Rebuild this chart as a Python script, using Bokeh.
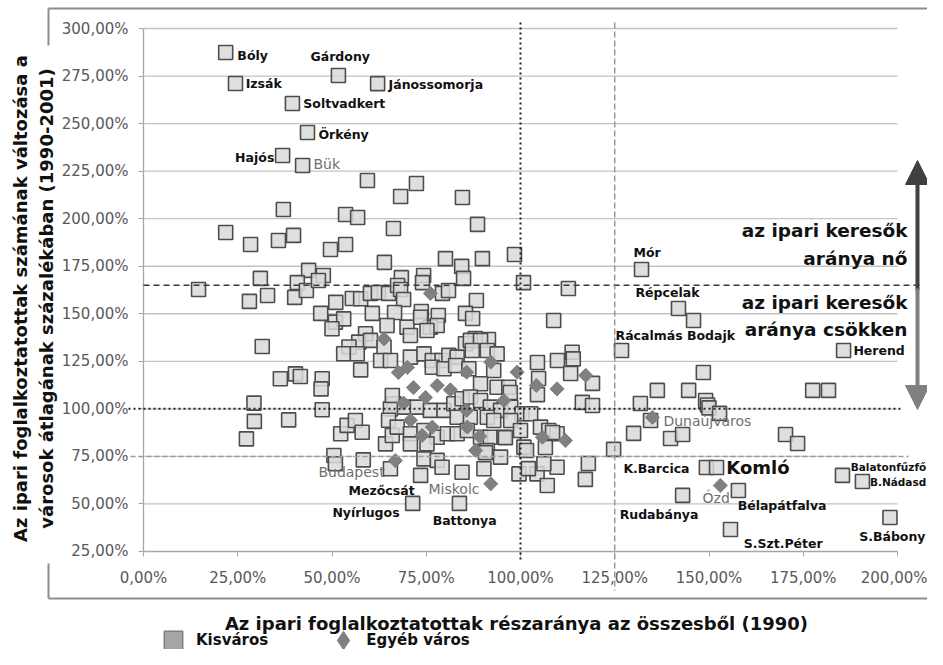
import math
from bokeh.plotting import figure
from bokeh.models import (Range1d, FixedTicker, ColumnDataSource, LabelSet, Label,
                          Arrow, NormalHead, Legend, LegendItem)
from bokeh.core.properties import value
from bokeh.embed import file_html
from bokeh.resources import INLINE

# ---------------- data ----------------
kis_x = [21.8, 24.4, 51.7, 62.1, 39.5, 43.5, 36.9, 42.2,
         59.4, 68.2, 72.4, 84.6, 37.1, 53.6, 56.8, 88.6, 66.3, 21.8, 39.8, 35.8, 28.4, 53.6, 49.6, 98.4,
         89.9, 80.1, 63.9, 84.4, 31.0, 43.8, 47.7, 68.4, 74.3, 84.9, 132.1,
         14.6, 28.1, 32.9, 40.8, 40.1, 43.2, 46.4, 51.0, 55.4, 57.6, 60.2, 62.3, 65.0, 67.4, 68.2, 69.0,
         74.0, 79.3, 80.9, 88.3, 100.8, 112.7,
         47.0, 50.9, 53.1, 50.0, 60.7, 66.6, 73.7, 78.2, 85.4, 87.3, 108.8, 64.6, 76.1, 77.9, 58.9, 57.1,
         60.2, 91.5, 88.0, 54.5, 53.1, 56.7, 63.8, 62.9, 65.5, 57.6, 31.5, 141.9, 145.9, 126.8, 185.7,
         69.9, 73.5, 70.8, 75.2, 85.4, 86.7, 89.4, 87.2, 91.2, 93.8, 70.8, 74.4, 76.6, 79.2, 81.0, 83.2,
         76.6, 79.7, 82.8, 86.3, 92.9, 93.8, 89.4, 96.9,
         66.4, 69.1, 72.6, 76.1, 79.7, 82.3, 84.5, 86.7, 89.4, 92.0, 94.7, 97.4, 100.4, 102.7, 83.2, 86.7,
         91.2, 92.9, 97.4,
         104.5, 109.8, 113.7, 114.0, 113.3, 104.8, 119.1, 116.4, 119.1, 104.5, 97.3, 131.8, 136.3, 144.6,
         148.5, 149.1, 149.6, 150.0, 152.8, 177.5, 181.7, 134.5, 130.0, 139.8, 143.0, 170.3, 173.5, 124.7,
         29.3, 29.4, 27.3, 38.5, 47.4, 52.3, 54.0, 56.2, 58.0, 50.5, 50.9, 58.3, 65.5, 64.2, 66.0, 65.5,
         66.0, 36.3, 40.3, 41.6, 47.4, 47.1, 65.0,
         67.3, 70.8, 74.4, 77.9, 80.6, 83.2, 85.9, 89.4, 92.0, 95.6, 100.0, 100.9, 105.3, 107.5, 109.7,
         70.8, 75.2, 74.4, 77.9, 73.5, 79.2, 84.5, 90.3, 91.2, 94.7, 99.6, 104.4, 107.1, 109.7, 106.2,
         101.6, 106.6, 90.7, 96.0, 108.5, 118.0, 117.2, 102.1,
         71.4, 83.8, 143.0, 157.8, 155.7, 198.0, 185.4, 190.7, 149.3, 152.0]
kis_y = [287.4, 271.1, 275.3, 271.0, 260.6, 245.3, 233.2, 228.0,
         220.1, 211.7, 218.5, 211.1, 204.8, 202.2, 200.6, 197.0, 194.8, 192.7, 191.2, 188.5, 186.4, 186.4, 183.8, 181.2,
         179.0, 179.0, 177.0, 174.9, 168.6, 172.8, 170.1, 169.0, 170.1, 168.6, 173.3,
         162.8, 156.5, 159.6, 166.4, 158.6, 162.2, 167.5, 156.0, 158.0, 157.9, 160.7, 161.2, 160.7, 164.9, 162.8, 157.5,
         166.4, 160.7, 162.2, 157.0, 166.4, 163.3,
         150.2, 145.6, 147.3, 142.1, 150.2, 150.7, 151.2, 149.1, 150.2, 147.5, 146.5, 143.8, 143.0, 143.8, 139.5, 135.1,
         136.0, 136.5, 137.0, 132.5, 129.0, 129.0, 132.5, 125.4, 125.4, 120.5, 132.8, 152.8, 146.5, 130.7, 130.7,
         143.0, 148.2, 138.6, 141.2, 134.2, 136.0, 136.0, 130.7, 130.7, 128.9, 127.2, 128.9, 125.4, 125.4, 128.1, 127.2,
         121.9, 121.1, 122.8, 121.1, 120.2, 111.4, 113.2, 111.4,
         102.7, 100.9, 100.9, 99.2, 99.2, 102.7, 105.3, 106.2, 104.4, 100.9, 99.2, 100.9, 97.4, 97.4, 95.6, 95.6,
         95.6, 93.9, 93.9,
         124.4, 125.4, 129.8, 126.3, 118.6, 116.0, 113.4, 103.4, 101.8, 107.5, 108.6, 102.8, 109.7, 109.7,
         119.1, 104.4, 102.0, 100.5, 97.6, 109.7, 109.7, 93.9, 87.1, 84.4, 86.5, 86.5, 81.8, 78.7,
         103.0, 93.4, 84.2, 94.2, 99.5, 86.9, 91.3, 93.9, 87.7, 75.5, 71.1, 73.2, 68.5, 81.6, 86.0, 100.0,
         107.0, 115.8, 118.4, 117.0, 115.8, 110.5, 94.0,
         90.4, 86.9, 88.6, 85.1, 86.9, 86.9, 88.6, 85.1, 85.1, 85.1, 88.6, 79.9, 90.4, 88.6, 86.9,
         81.6, 81.6, 73.7, 72.9, 65.0, 69.3, 66.7, 68.5, 78.1, 74.6, 65.8, 65.8, 59.7, 69.3, 71.1,
         78.1, 79.7, 77.0, 84.9, 87.6, 71.3, 62.9, 68.6,
         50.3, 50.3, 54.5, 57.1, 36.6, 42.9, 65.0, 61.8, 69.2, 69.2]

egyeb_x = [76.1, 63.8, 70.0, 67.6, 71.6, 69.0, 74.8, 70.8, 76.6, 73.9, 85.9, 89.2, 88.1, 95.6, 85.7,
           92.1, 85.7, 81.4, 77.9, 99.1, 104.2, 109.7, 105.8, 111.9, 92.1, 66.8, 117.3, 135.0, 153.0]
egyeb_y = [160.7, 136.8, 121.8, 119.1, 111.2, 103.0, 106.0, 94.0, 90.4, 86.0, 90.4, 85.5, 78.1, 104.4, 99.2,
           124.6, 119.3, 110.0, 112.3, 119.3, 112.3, 110.5, 85.1, 83.4, 60.6, 72.8, 117.6, 95.5, 59.7]

x_ticks = [0, 25, 50, 75, 100, 125, 150, 175, 200]
y_ticks = [25, 50, 75, 100, 125, 150, 175, 200, 225, 250, 275, 300]

# label texts and their anchor points (data units)
lab_black = ["Bóly", "Izsák", "Gárdony", "Jánossomorja", "Soltvadkert", "Örkény", "Mór", "Répcelak",
             "Rácalmás Bodajk", "Herend", "K.Barcica", "Bélapátfalva",
             "Rudabánya", "S.Szt.Péter", "Mezőcsát", "Nyírlugos", "Battonya"]
lab_black_x = [24.9, 27.1, 44.3, 65.0, 42.4, 46.4, 130.0, 130.5, 125.2, 188.3, 127.3,
               157.6, 126.3, 159.2, 54.4, 50.1, 76.7]
lab_black_y = [285.8, 271.1, 285.3, 270.6, 260.6, 244.3, 182.2, 161.2, 138.6, 130.7, 68.7,
               49.2, 44.5, 29.2, 57.1, 45.5, 41.3]
lab_edge = ["Balatonfűzfő", "B.Nádasd"]
lab_edge_x = [187.6, 192.7]
lab_edge_y = [69.2, 61.3]
lab_gray = ["Bük", "Dunaújváros", "Budapest", "Miskolc", "Ózd"]
lab_gray_x = [45.1, 137.9, 46.4, 75.6, 148.3]
lab_gray_y = [228.5, 93.4, 66.6, 58.1, 52.9]

def fmt(v):
    return ("%.2f" % v).replace(".", ",") + "%"

# helpers: picture pixel -> data units (for annotation placement only)
def ypx(py):
    return 300 - (py - 28) / 1.9018

def xpx(px):
    return (px - 143) / 3.77

W, H = 927, 649
# the frame fills the whole canvas; axes are drawn at fixed locations inside it
p = figure(width=W, height=H, output_backend="svg", toolbar_location=None,
           x_range=Range1d(xpx(0), xpx(W)), y_range=Range1d(ypx(H), ypx(0)),
           min_border=0)
p.outline_line_color = None
p.background_fill_color = "white"
p.border_fill_color = "white"
p.grid.visible = False

for ax, ticks, loc, bnd in ((p.xaxis, x_ticks, 25, (0, 200)), (p.yaxis, y_ticks, 0, (25, 300))):
    ax.fixed_location = loc
    ax.bounds = bnd
    ax.ticker = FixedTicker(ticks=ticks)
    ax.major_label_overrides = {t: fmt(t) for t in ticks}
    ax.axis_line_color = "#a6a6a6"
    ax.axis_line_width = 1.3
    ax.major_tick_line_color = "#a6a6a6"
    ax.major_tick_in = 0
    ax.major_tick_out = 5
    ax.minor_tick_line_color = None
    ax.major_label_text_font = "DejaVu Sans"
    ax.major_label_text_font_size = "15px"
    ax.major_label_text_color = "#595959"
p.xaxis.major_label_standoff = 13
p.yaxis.major_label_standoff = 10

# horizontal gridlines, limited to the 0-200 % span
gy = y_ticks[1:]
p.segment(x0=[0] * len(gy), y0=gy, x1=[200] * len(gy), y1=gy, line_color="#c3c3c3", line_width=1.3)

def seg(x0, y0, x1, y1, color, width, dash="solid"):
    p.add_layout(Arrow(end=None, x_start=x0, y_start=y0, x_end=x1, y_end=y1,
                       line_color=color, line_width=width, line_dash=dash))

# reference lines
seg(0, 165, xpx(923), 165, "#3a3a3a", 1.6, "6 4")
seg(xpx(128), 100, xpx(900), 100, "#222222", 2, "2 3")
seg(xpx(130), 75, xpx(908), 75, "#9a9a9a", 1.5, "5 3")
seg(100, ypx(22), 100, ypx(560), "#222222", 2, "2 3")
seg(125, ypx(22), 125, ypx(590), "#8c8c8c", 1.3, "6 3")

# outer chart border
bl, br, bt, bb = xpx(48), xpx(940), ypx(8), ypx(598)
seg(bl, bt, br, bt, "#8c8c8c", 2)
seg(bl, bb, br, bb, "#8c8c8c", 2)
seg(bl, bt, bl, ypx(45), "#8c8c8c", 2)
seg(bl, ypx(563), bl, bb, "#8c8c8c", 2)

# points
src_k = ColumnDataSource(dict(x=kis_x, y=kis_y))
src_e = ColumnDataSource(dict(x=egyeb_x, y=egyeb_y))
p.scatter("x", "y", source=src_k, marker="square", size=14, fill_color="#d9d9d9",
          fill_alpha=0.85, line_color="#4d4d4d", line_width=1.6)
p.scatter("x", "y", source=src_e, marker="square", angle=math.pi / 4, size=10,
          fill_color="#808080", line_color="#808080", line_width=1)

# point labels
F = value("DejaVu Sans")
p.add_layout(LabelSet(source=ColumnDataSource(dict(x=lab_black_x, y=lab_black_y, t=lab_black)),
                      x="x", y="y", text="t", text_font=F, text_font_style="bold",
                      text_font_size="12.5px", text_color="#111111", text_baseline="middle",
                      text_align="left"))
p.add_layout(LabelSet(source=ColumnDataSource(dict(x=lab_edge_x, y=lab_edge_y, t=lab_edge)),
                      x="x", y="y", text="t", text_font=F, text_font_style="bold",
                      text_font_size="10.5px", text_color="#111111", text_baseline="middle",
                      text_align="left"))
p.add_layout(LabelSet(source=ColumnDataSource(dict(x=lab_gray_x, y=lab_gray_y, t=lab_gray)),
                      x="x", y="y", text="t", text_font=F,
                      text_font_size="14px", text_color="#707070", text_baseline="middle",
                      text_align="left"))
p.add_layout(Label(x=34.7, y=232.2, text="Hajós", text_font="DejaVu Sans", text_font_style="bold",
                   text_font_size="12.5px", text_color="#111111", text_baseline="middle", text_align="right"))
p.add_layout(Label(x=xpx(925), y=32.9, text="S.Bábony", text_font="DejaVu Sans", text_font_style="bold",
                   text_font_size="12.5px", text_color="#111111", text_baseline="middle", text_align="right"))
p.add_layout(Label(x=154.6, y=69.2, text="Komló", text_font="DejaVu Sans", text_font_style="bold",
                   text_font_size="18px", text_color="#111111", text_baseline="middle", text_align="left"))

# side annotations
for txt, py in (("az ipari keresők", 230), ("aránya nő", 258), ("az ipari keresők", 302), ("aránya csökken", 329)):
    p.add_layout(Label(x=xpx(907), y=ypx(py), text=txt, text_font="DejaVu Sans", text_font_style="bold",
                       text_font_size="18.5px", text_color="#111111", text_baseline="middle",
                       text_align="right"))
p.add_layout(Arrow(x_start=xpx(917), y_start=ypx(290), x_end=xpx(917), y_end=ypx(160),
                   line_color="#404040", line_width=4,
                   end=NormalHead(size=24, fill_color="#404040", line_color="#404040")))
p.add_layout(Arrow(x_start=xpx(917), y_start=ypx(288), x_end=xpx(917), y_end=ypx(409),
                   line_color="#808080", line_width=4,
                   end=NormalHead(size=24, fill_color="#808080", line_color="#808080")))

# axis titles
p.add_layout(Label(x=xpx(516), y=ypx(623), text="Az ipari foglalkoztatottak részaránya az összesből (1990)",
                   text_font="DejaVu Sans", text_font_style="bold", text_font_size="18px",
                   text_color="#111111", text_align="center", text_baseline="middle"))
p.add_layout(Label(x=xpx(20), y=ypx(298), angle=math.pi / 2,
                   text="Az ipari foglalkoztatottak számának változása a",
                   text_font="DejaVu Sans", text_font_style="bold", text_font_size="18px",
                   text_color="#111111", text_align="center", text_baseline="middle"))
p.add_layout(Label(x=xpx(46), y=ypx(298), angle=math.pi / 2,
                   text="városok átlagának százalékában (1990-2001)",
                   text_font="DejaVu Sans", text_font_style="bold", text_font_size="18px",
                   text_color="#111111", text_align="center", text_baseline="middle"))

# legend (proxy renderers whose single point lies far outside the view)
r_leg_k = p.scatter(x=[-1000], y=[-1000], marker="square", size=14, fill_color="#a6a6a6",
                    line_color="#7f7f7f", line_width=1.5)
r_leg_e = p.scatter(x=[-1000], y=[-1000], marker="diamond", size=14,
                    fill_color="#808080", line_color="#808080")
legend = Legend(items=[LegendItem(label="Kisváros", renderers=[r_leg_k]),
                       LegendItem(label="Egyéb város", renderers=[r_leg_e])],
                orientation="horizontal", location=(150, -14), padding=0, margin=0,
                spacing=52, glyph_width=46, glyph_height=46, label_standoff=-3,
                border_line_color=None, background_fill_alpha=0,
                label_text_font="DejaVu Sans", label_text_font_style="bold",
                label_text_font_size="15px", label_text_color="#111111")
p.add_layout(legend)

open("out.html", "w").write(file_html(p, INLINE))
